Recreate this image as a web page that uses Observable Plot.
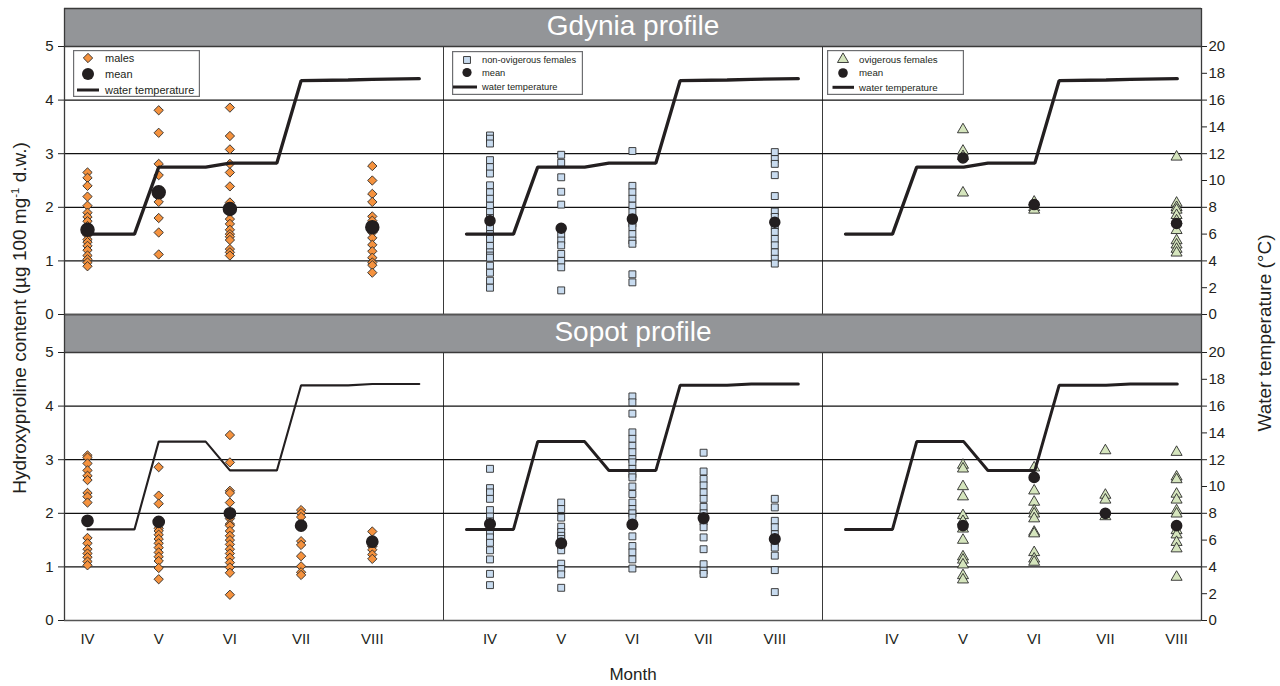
<!DOCTYPE html>
<html>
<head>
<meta charset="utf-8">
<script src="https://cdn.jsdelivr.net/npm/d3@7"></script>
<script src="https://cdn.jsdelivr.net/npm/@observablehq/plot@0.6"></script>
<style>
  html, body { margin: 0; padding: 0; background: #fff; }
  body { font-family: "Liberation Sans", Arial, sans-serif; color: #231f20; }
  #wrap { position: relative; width: 1280px; height: 686px; overflow: hidden; }
  .ytitle { position: absolute; white-space: nowrap; font-size: 19px; color: #231f20;
            transform: translate(-50%, -50%) rotate(-90deg); }
  .legend { position: absolute; }
</style>
</head>
<body>
<div id="wrap"></div>
<script>
// ---------------- data ----------------
const profiles = ["Gdynia", "Sopot"];
const profileTitles = ["Gdynia profile", "Sopot profile"];
const groups = ["males", "non-ovigerous females", "ovigerous females"];
const months = ["IV", "V", "VI", "VII", "VIII"];
const leftTicks = [0, 1, 2, 3, 4, 5];
const rightTicks = [0, 2, 4, 6, 8, 10, 12, 14, 16, 18, 20];
const gridValues = [1, 2, 3, 4];

// hydroxyproline content, one array per month (IV..VIII)
const gdyniaMales = [
  [2.65, 2.55, 2.4, 2.2, 2.03, 1.9, 1.82, 1.74, 1.65, 1.55, 1.48, 1.4, 1.35, 1.28, 1.2, 1.1, 1.03, 0.97, 0.9],
  [3.81, 3.39, 2.81, 2.6, 2.2, 2.1, 1.8, 1.53, 1.12],
  [3.86, 3.33, 3.08, 2.81, 2.65, 2.39, 2.09, 2.0, 1.9, 1.78, 1.69, 1.58, 1.5, 1.45, 1.39, 1.22, 1.16, 1.1],
  [],
  [2.77, 2.5, 2.25, 2.1, 1.83, 1.75, 1.6, 1.53, 1.43, 1.3, 1.18, 1.06, 0.97, 0.92, 0.78]
];
const gdyniaMalesMean = [1.58, 2.28, 1.97, null, 1.63];

const gdyniaNonOvig = [
  [3.34, 3.28, 3.19, 2.88, 2.75, 2.63, 2.41, 2.28, 2.16, 2.03, 1.91, 1.8, 1.63, 1.5, 1.41, 1.28, 1.16, 1.1, 1.06, 0.91, 0.78, 0.63, 0.5],
  [2.98, 2.83, 2.56, 2.29, 2.05, 1.5, 1.38, 1.29, 1.13, 1.0, 0.88, 0.45],
  [3.05, 2.4, 2.28, 2.16, 2.03, 1.91, 1.8, 1.7, 1.63, 1.5, 1.38, 1.32, 0.75, 0.6],
  [],
  [3.03, 2.9, 2.81, 2.6, 2.21, 1.92, 1.82, 1.65, 1.54, 1.41, 1.29, 1.16, 1.04, 0.95]
];
const gdyniaNonOvigMean = [1.75, 1.61, 1.78, null, 1.72];

const gdyniaOvig = [
  [],
  [3.45, 3.05, 2.95, 2.27],
  [2.1, 2.0, 1.95],
  [],
  [2.94, 2.08, 2.0, 1.95, 1.85, 1.75, 1.57, 1.38, 1.3, 1.22, 1.15]
];
const gdyniaOvigMean = [null, 2.92, 2.05, null, 1.7];

const sopotMales = [
  [3.08, 3.04, 2.93, 2.8, 2.7, 2.62, 2.38, 2.31, 2.2, 1.54, 1.44, 1.33, 1.25, 1.18, 1.1, 1.03],
  [2.86, 2.33, 2.18, 1.72, 1.67, 1.6, 1.52, 1.44, 1.36, 1.27, 1.19, 1.11, 0.98, 0.77],
  [3.46, 2.95, 2.42, 2.38, 2.2, 1.9, 1.8, 1.77, 1.67, 1.58, 1.5, 1.42, 1.33, 1.25, 1.17, 1.08, 0.99, 0.89, 0.48],
  [2.06, 2.0, 1.93, 1.48, 1.41, 1.2, 1.01, 0.9, 0.85],
  [1.66, 1.38, 1.32, 1.23, 1.15]
];
const sopotMalesMean = [1.86, 1.84, 2.0, 1.77, 1.47];

const sopotNonOvig = [
  [2.83, 2.47, 2.39, 2.27, 2.06, 1.94, 1.85, 1.75, 1.64, 1.55, 1.45, 1.31, 1.14, 0.87, 0.66],
  [2.2, 2.08, 1.92, 1.75, 1.65, 1.58, 1.52, 1.4, 1.31, 1.06, 0.96, 0.86, 0.61],
  [4.18, 4.07, 3.86, 3.51, 3.39, 3.26, 3.14, 3.01, 2.95, 2.83, 2.73, 2.67, 2.5, 2.36, 2.2, 2.08, 2.0, 1.92, 1.77, 1.57, 1.39, 1.27, 1.14, 0.97],
  [3.13, 2.78, 2.64, 2.52, 2.39, 2.27, 2.12, 2.0, 1.85, 1.74, 1.55, 1.33, 1.05, 0.93, 0.87],
  [2.27, 2.11, 1.86, 1.74, 1.61, 1.45, 1.36, 1.21, 0.94, 0.53]
];
const sopotNonOvigMean = [1.8, 1.44, 1.79, 1.91, 1.52];

const sopotOvig = [
  [],
  [2.9, 2.83, 2.5, 2.31, 1.96, 1.85, 1.71, 1.5, 1.19, 1.13, 1.04, 0.84, 0.76],
  [2.85, 2.42, 2.21, 2.05, 1.99, 1.9, 1.65, 1.62, 1.27, 1.15, 1.09],
  [3.17, 2.34, 2.25, 1.94],
  [3.14, 2.68, 2.63, 2.36, 2.25, 2.05, 1.99, 1.68, 1.6, 1.46, 1.34, 0.81]
];
const sopotOvigMean = [null, 1.77, 2.67, 2.0, 1.77];

// water temperature (°C), sampled twice per month (time in months after start of IV)
const tempTime = [0, 0.66, 1, 1.66, 2, 2.66, 3, 3.66, 4, 4.66];
const gdyniaTemp = [6.0, 6.0, 11.0, 11.0, 11.3, 11.3, 17.45, 17.5, 17.55, 17.6];
const sopotTemp = [6.8, 6.8, 13.35, 13.35, 11.2, 11.2, 17.55, 17.55, 17.65, 17.65];

// ---------------- layout / style (not data) ----------------
const tempPerUnit = 4;            // 20 °C on the right axis = 5 units on the left axis
const yTop = 5.709;               // top of the header band (in left-axis units)
const xDomain = [-0.323, 5.0];    // per-panel month scale
const groupOffset = [0, 0.33, 0.65];
const symbols = ["diamond2", "square", "triangle"];
const fills = ["#f5923e", "#c8dbef", "#d5e5bd"];
const symR = [4.2, 3.9, 4.1];
const meanR = {Gdynia: [6.5, 5, 5], Sopot: [5.6, 5.3, 5.1]};
const tempWidth = {Gdynia: [3.3, 3.3, 3.3], Sopot: [2.1, 3, 3]};

const panels = [
  {profile: "Gdynia", g: 0, values: gdyniaMales, means: gdyniaMalesMean, temp: gdyniaTemp},
  {profile: "Gdynia", g: 1, values: gdyniaNonOvig, means: gdyniaNonOvigMean, temp: gdyniaTemp},
  {profile: "Gdynia", g: 2, values: gdyniaOvig, means: gdyniaOvigMean, temp: gdyniaTemp},
  {profile: "Sopot", g: 0, values: sopotMales, means: sopotMalesMean, temp: sopotTemp},
  {profile: "Sopot", g: 1, values: sopotNonOvig, means: sopotNonOvigMean, temp: sopotTemp},
  {profile: "Sopot", g: 2, values: sopotOvig, means: sopotOvigMean, temp: sopotTemp}
];

const ink = "#231f20";
const marks = [];

// frames, grid, header bands
marks.push(Plot.frame({stroke: "#3a3a3a", strokeWidth: 1}));
marks.push(Plot.ruleY(gridValues, {stroke: "#111", strokeWidth: 1.3}));
marks.push(Plot.rect([0], {x1: xDomain[0], x2: xDomain[1], y1: 5, y2: yTop, fill: "#939598"}));
marks.push(Plot.ruleY([5, yTop], {stroke: "#3a3a3a", strokeWidth: 1.3}));
marks.push(Plot.ruleY([0], {stroke: "#555", strokeWidth: 1.5}));
marks.push(Plot.ruleX([xDomain[0]], {fx: () => 0, y1: 0, y2: yTop, stroke: "#3a3a3a", strokeWidth: 1.3}));
marks.push(Plot.ruleX([xDomain[1]], {fx: () => 2, y1: 0, y2: yTop, stroke: "#3a3a3a", strokeWidth: 1.3}));
marks.push(Plot.text([0, 1], {
  fx: () => 1, fy: i => profiles[i], text: i => profileTitles[i],
  frameAnchor: "top", dy: 18, fill: "white", fontSize: 28, lineAnchor: "middle"
}));

// panel marks
for (const p of panels) {
  const pts = [];
  p.values.forEach((arr, m) => arr.forEach(v => pts.push({m, v})));
  const mns = p.means.map((v, m) => ({m, v})).filter(d => d.v != null);
  const tmp = tempTime.map((t, i) => ({t, temp: p.temp[i]}));
  const fx = () => p.g, fy = () => p.profile;
  marks.push(Plot.dot(pts, {
    fx, fy, x: d => d.m + groupOffset[p.g], y: "v",
    symbol: symbols[p.g], r: symR[p.g], fill: fills[p.g], stroke: "#2b2b2b", strokeWidth: 0.9
  }));
  marks.push(Plot.line(tmp, {
    fx, fy, x: "t", y: d => d.temp / tempPerUnit,
    stroke: ink, strokeWidth: tempWidth[p.profile][p.g], strokeLinejoin: "miter"
  }));
  marks.push(Plot.dot(mns, {
    fx, fy, x: d => d.m + groupOffset[p.g], y: "v",
    r: meanR[p.profile][p.g], fill: ink, stroke: ink
  }));
}

// axes
marks.push(Plot.axisY({anchor: "left", ticks: leftTicks, tickFormat: d => String(d), tickSize: 6, tickPadding: 5,
  fontSize: 15, label: null, stroke: "#222"}));
marks.push(Plot.axisY({anchor: "right", ticks: rightTicks.map(t => t / tempPerUnit),
  tickFormat: d => String(Math.round(d * tempPerUnit)), tickSize: 5, tickPadding: 2,
  fontSize: 15, label: null, stroke: "#222"}));
for (const g of [0, 1, 2]) {
  marks.push(Plot.text(months, {
    fx: () => g, fy: () => "Sopot", x: (d, i) => i + groupOffset[g], text: d => d,
    frameAnchor: "bottom", dy: 23, fontSize: 15, fill: ink
  }));
}
marks.push(Plot.text(["Month"], {fx: () => 1, fy: () => "Sopot", text: d => d,
  frameAnchor: "bottom", dy: 59, fontSize: 17, fill: ink}));

const chart = Plot.plot({
  width: 1280, height: 686,
  marginLeft: 63, marginRight: 79, marginTop: 8, marginBottom: 66,
  x: {domain: xDomain, axis: null},
  y: {domain: [0, yTop], axis: null},
  fx: {domain: [0, 1, 2], padding: 0, axis: null},
  fy: {domain: profiles, padding: 0, axis: null},
  style: {fontFamily: "'Liberation Sans', Arial, sans-serif", color: ink, background: "white", overflow: "visible"},
  marks
});
const wrap = document.getElementById("wrap");
wrap.appendChild(chart);

// axis titles
const lt = document.createElement("div");
lt.className = "ytitle";
lt.style.left = "20px"; lt.style.top = "318px";
lt.innerHTML = "Hydroxyproline content (µg 100 mg<sup style='font-size:60%;vertical-align:super;line-height:0'>-1</sup> d.w.)";
wrap.appendChild(lt);
const rt = document.createElement("div");
rt.className = "ytitle";
rt.style.left = "1265px"; rt.style.top = "333px";
rt.textContent = "Water temperature (°C)";
wrap.appendChild(rt);

// legends
const legendCfg = [
  {left: 73, top: 50, w: 127, h: 47, fs: 11, rows: [8, 24, 40], sx: 15, tx: 32, line: [4, 26], mr: 6, g: 0},
  {left: 452, top: 51, w: 131, h: 44, fs: 9.3, rows: [9, 21.5, 36], sx: 15, tx: 30, line: [1, 25], mr: 4.6, g: 1},
  {left: 827, top: 50, w: 137, h: 45, fs: 9.7, rows: [9.3, 23, 37.3], sx: 16, tx: 32, line: [5.5, 27], mr: 4.8, g: 2}
];
for (const c of legendCfg) {
  const svg = d3.create("svg").attr("class", "legend").attr("width", c.w).attr("height", c.h)
    .style("left", c.left + "px").style("top", c.top + "px");
  svg.append("rect").attr("x", 0.6).attr("y", 0.6).attr("width", c.w - 1.2).attr("height", c.h - 1.2)
    .attr("fill", "white").attr("stroke", "#6d6e71").attr("stroke-width", 1.2);
  const symType = [d3.symbolDiamond2, d3.symbolSquare, d3.symbolTriangle][c.g];
  const size = Math.PI * symR[c.g] * symR[c.g];
  svg.append("path").attr("d", d3.symbol(symType, size)())
    .attr("transform", `translate(${c.sx},${c.rows[0]})`)
    .attr("fill", fills[c.g]).attr("stroke", "#2b2b2b").attr("stroke-width", 0.9);
  svg.append("circle").attr("cx", c.sx).attr("cy", c.rows[1]).attr("r", c.mr).attr("fill", ink);
  svg.append("line").attr("x1", c.line[0]).attr("x2", c.line[1]).attr("y1", c.rows[2]).attr("y2", c.rows[2])
    .attr("stroke", ink).attr("stroke-width", 3);
  const labels = [groups[c.g], "mean", "water temperature"];
  labels.forEach((t, i) => svg.append("text").attr("x", c.tx).attr("y", c.rows[i]).attr("dy", "0.35em")
    .attr("font-size", c.fs).attr("font-family", "'Liberation Sans', Arial, sans-serif")
    .attr("fill", ink).text(t));
  wrap.appendChild(svg.node());
}
</script>
</body>
</html>
